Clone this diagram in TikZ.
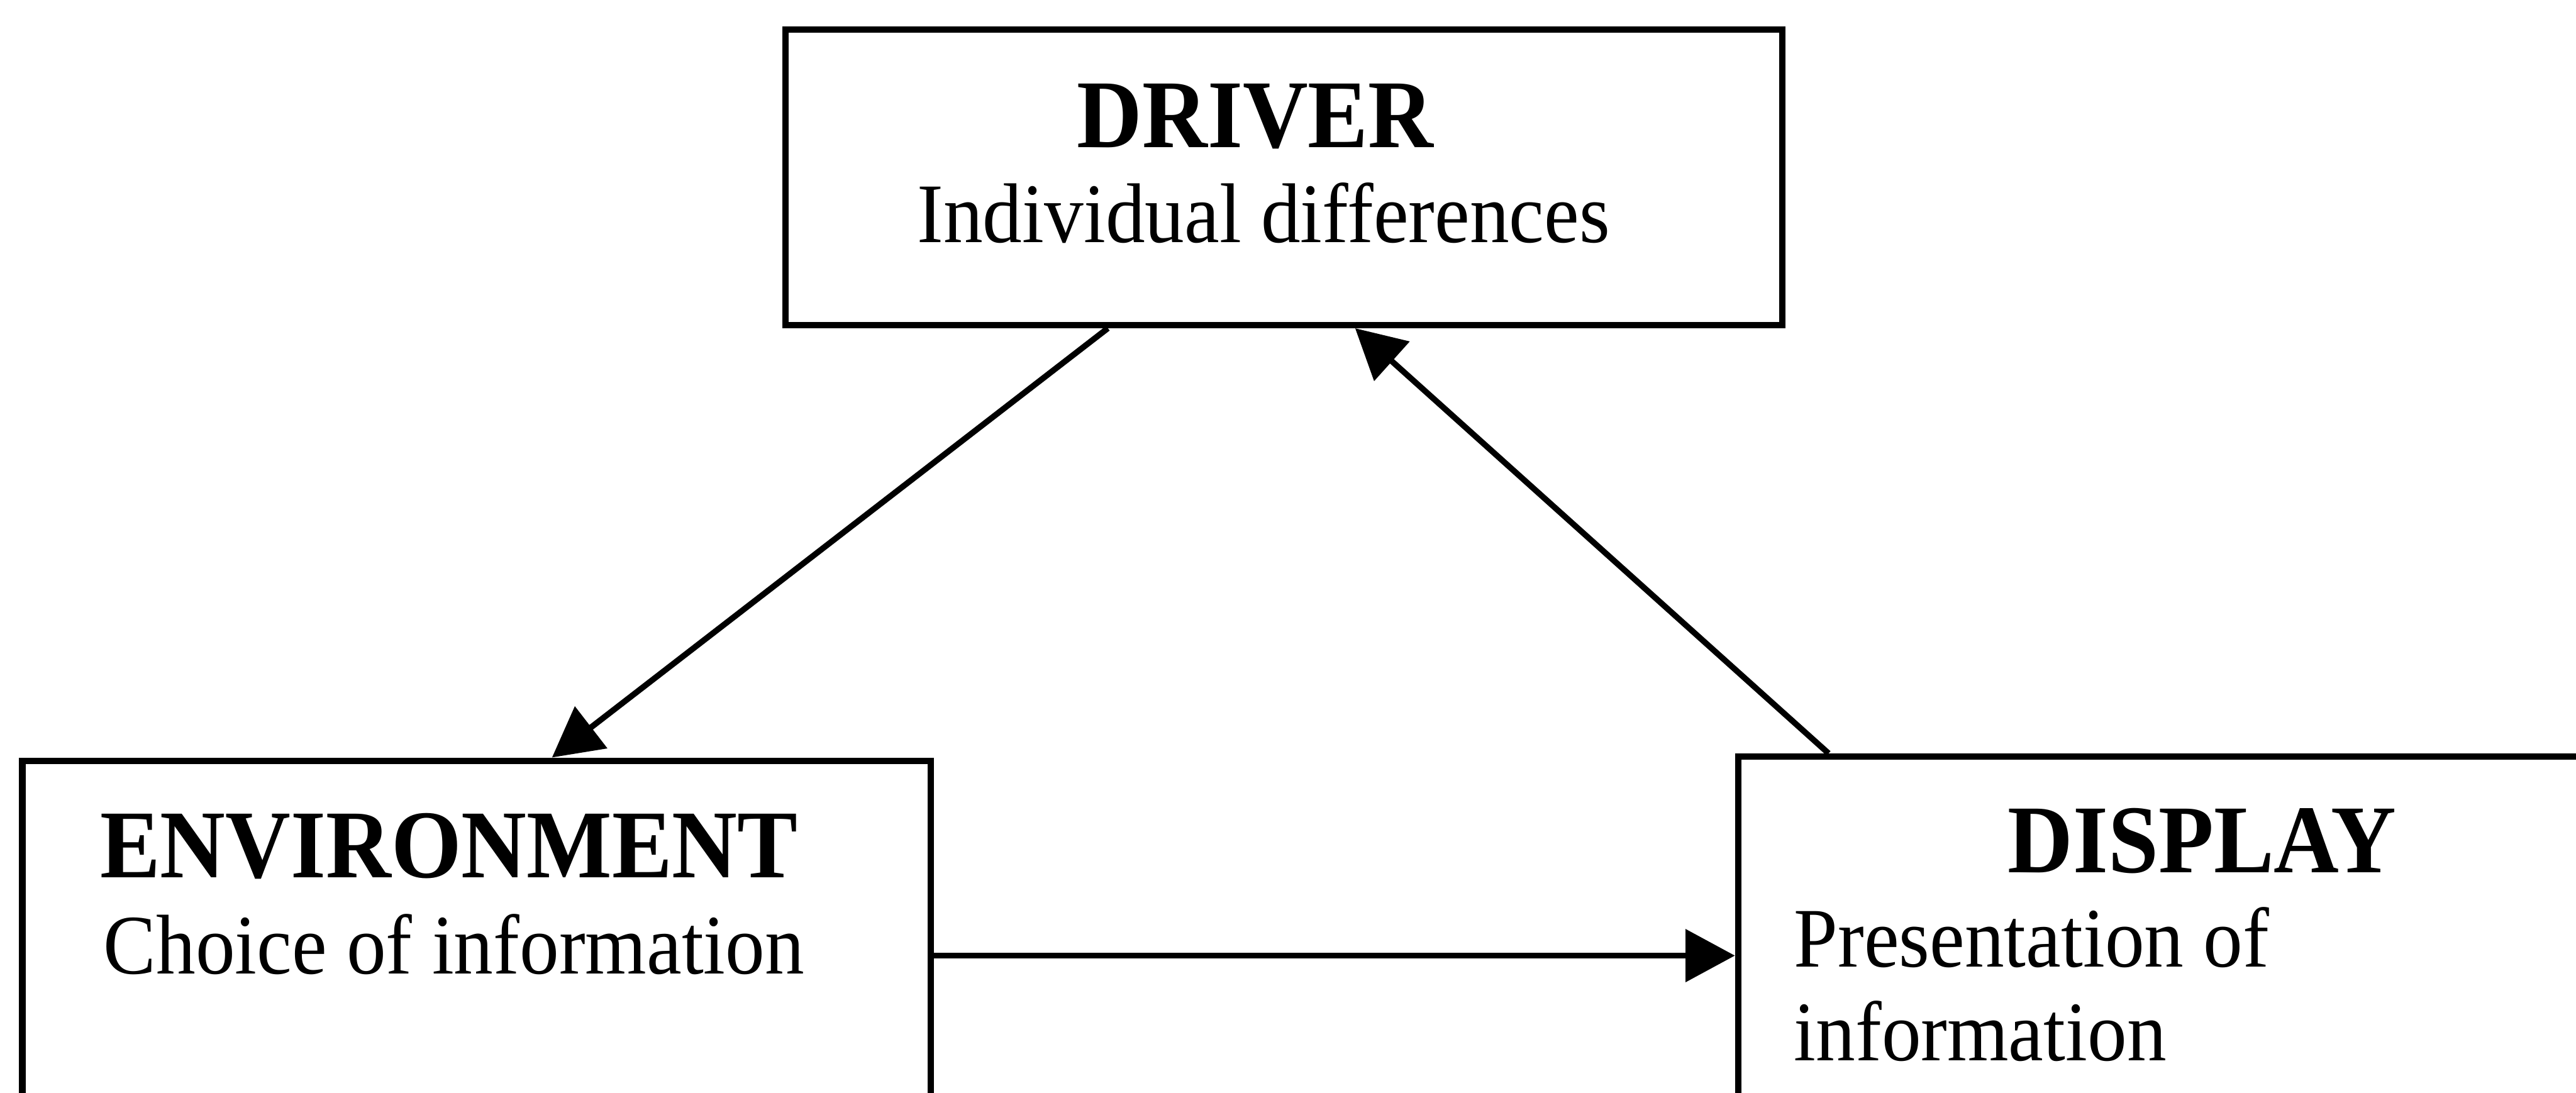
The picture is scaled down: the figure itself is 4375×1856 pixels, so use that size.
\documentclass[tikz,border=0pt]{standalone}
\usepackage{fontspec}
\setmainfont{Liberation Serif}[FakeStretch=0.93]
\usetikzlibrary{arrows.meta}
\tikzset{box/.style={draw, rectangle, line width=1.1pt},
  arr/.style={-{Triangle[length=8.4pt,width=8.8pt]}, line width=1pt},
  ttl/.style={inner sep=0pt, font=\fontsize{16.5}{18}\selectfont\bfseries},
  txt/.style={inner sep=0pt, font=\fontsize{14.4}{16}\selectfont}}
\begin{document}
\begin{tikzpicture}[x=0.1pt,y=-0.1pt]
  \useasboundingbox (0,0) rectangle (4375,1856);
  \clip (0,0) rectangle (4375,1856);
  \node[box, minimum width=169.3pt, minimum height=50.2pt] (driver) at (2180.5,301) {};
  \node[box, minimum width=154.3pt, minimum height=66.8pt] (environment) at (809.5,1626) {};
  \node[box, minimum width=151.8pt, minimum height=67.5pt] (display) at (3711,1622.5) {};
  \node[ttl, anchor=base] (drvtitle) at (2132,250) {DRIVER};
  \node[txt, anchor=base] (drvtext) at (2146,412) {Individual differences};
  \node[ttl, anchor=base west] (envtitle) at (168,1490) {ENVIRONMENT};
  \node[txt, anchor=base west] (envtext) at (174,1654) {Choice of information};
  \node[ttl, anchor=base] (disptitle) at (3740,1482) {DISPLAY};
  \node[txt, anchor=base west] (disptexta) at (3045,1642) {Presentation of};
  \node[txt, anchor=base west] (disptextb) at (3045,1801) {information};
  \draw[arr] ([xshift=55.3pt]driver.south west) -- ([xshift=90.5pt]environment.north west);
  \draw[arr] ([xshift=15.9pt]display.north west) -- ([xshift=97.3pt]driver.south west);
  \draw[arr] ([yshift=0.3pt]environment.east) -- ([yshift=0.3pt]environment.east -| display.west);
\end{tikzpicture}
\end{document}
